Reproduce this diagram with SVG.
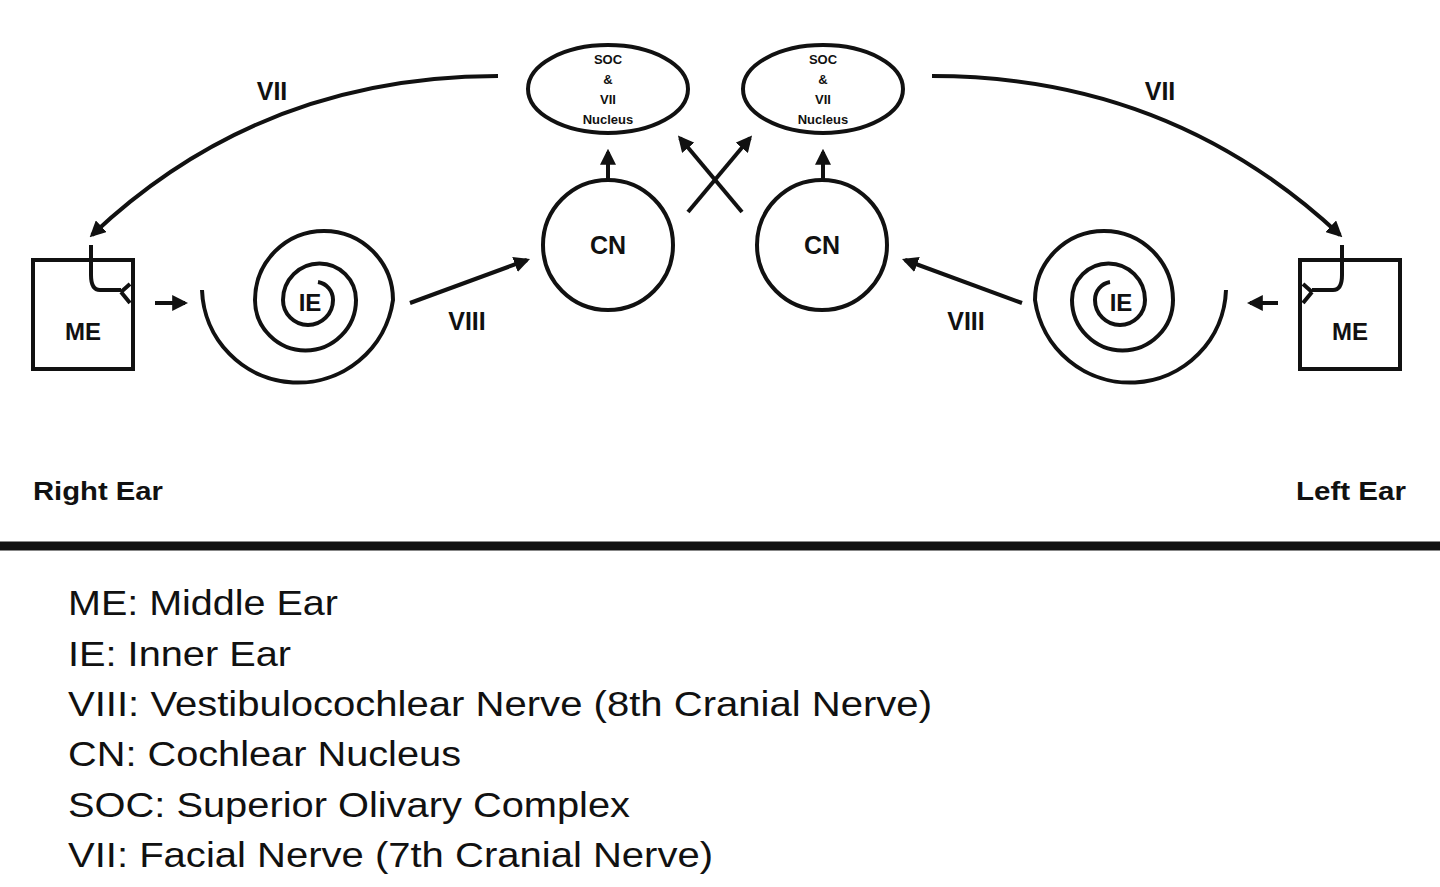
<svg xmlns="http://www.w3.org/2000/svg" width="1440" height="887" viewBox="0 0 1440 887">
<style>
.s{fill:none;stroke:#111;stroke-width:4}
.b{font-family:"Liberation Sans",Arial,sans-serif;font-weight:bold;fill:#111;text-anchor:middle}
.l{font-family:"Liberation Sans",Arial,sans-serif;font-size:35px;fill:#111}
</style>
<defs>
<marker id="a" viewBox="0 0 10 10" refX="8" refY="5" markerWidth="4" markerHeight="4" orient="auto" markerUnits="strokeWidth"><path d="M0,0L10,5L0,10z" fill="#111"/></marker>
<path id="me" d="M33,260H133V369H33Z M91,245V275Q91,290 100,290H121 M121,292L130,284 M121,292L130,303"/>
<path id="sp" d="M202,290A96,96 0 0 0 393,300A69,69 0 0 0 255,300A50.5,50.5 0 0 0 356,300A36.5,36.5 0 0 0 283,300A25,25 0 0 0 333,300A18,18 0 0 0 318,282"/>
</defs>
<rect width="1440" height="887" fill="#fff"/>
<g id="me-right"><use href="#me" class="s"/><text class="b" x="83" y="340" font-size="24">ME</text></g>
<g id="ie-right"><use href="#sp" class="s"/><text class="b" x="310" y="311" font-size="24">IE</text></g>
<g id="me-left"><use href="#me" class="s" transform="translate(1433,0) scale(-1,1)"/><text class="b" x="1350" y="340" font-size="24">ME</text></g>
<g id="ie-left"><use href="#sp" class="s" transform="translate(1428,0) scale(-1,1)"/><text class="b" x="1121" y="311" font-size="24">IE</text></g>
<g id="cn-l"><circle class="s" cx="608" cy="245" r="65"/><text class="b" x="608" y="254" font-size="25">CN</text></g>
<g id="cn-r"><circle class="s" cx="822" cy="245" r="65"/><text class="b" x="822" y="254" font-size="25">CN</text></g>
<g id="soc-l"><ellipse class="s" cx="608" cy="89" rx="80" ry="44"/>
<text class="b" font-size="13"><tspan x="608" y="64">SOC</tspan><tspan x="608" y="84">&amp;</tspan><tspan x="608" y="104">VII</tspan><tspan x="608" y="124">Nucleus</tspan></text></g>
<g id="soc-r"><ellipse class="s" cx="823" cy="89" rx="80" ry="44"/>
<text class="b" font-size="13"><tspan x="823" y="64">SOC</tspan><tspan x="823" y="84">&amp;</tspan><tspan x="823" y="104">VII</tspan><tspan x="823" y="124">Nucleus</tspan></text></g>
<g id="connectors" class="s" marker-end="url(#a)">
<path d="M608,180V152"/><path d="M823,180V152"/>
<path d="M688,212L750,138"/><path d="M742,212L680,138"/>
<path d="M410,303L527,260"/><path d="M1022,303L905,260"/>
<path d="M155,303H185"/><path d="M1278,303H1250"/>
<path d="M498,76Q260,76 92,235"/><path d="M932,76Q1170,76 1340,235"/>
</g>
<g class="b" font-size="25">
<text x="272" y="100">VII</text><text x="1160" y="100">VII</text>
<text x="467" y="330">VIII</text><text x="966" y="330">VIII</text>
<text x="98" y="500" textLength="130" lengthAdjust="spacingAndGlyphs">Right Ear</text><text x="1351" y="500" textLength="110" lengthAdjust="spacingAndGlyphs">Left Ear</text>
</g>
<line x1="0" y1="546" x2="1440" y2="546" stroke="#111" stroke-width="9"/>
<g class="l" lengthAdjust="spacingAndGlyphs">
<text x="68" y="615" textLength="270" lengthAdjust="spacingAndGlyphs">ME: Middle Ear</text>
<text x="68" y="666" textLength="223" lengthAdjust="spacingAndGlyphs">IE: Inner Ear</text>
<text x="68" y="716" textLength="864" lengthAdjust="spacingAndGlyphs">VIII: Vestibulocochlear Nerve (8th Cranial Nerve)</text>
<text x="68" y="766" textLength="393" lengthAdjust="spacingAndGlyphs">CN: Cochlear Nucleus</text>
<text x="68" y="817" textLength="562" lengthAdjust="spacingAndGlyphs">SOC: Superior Olivary Complex</text>
<text x="68" y="867" textLength="645" lengthAdjust="spacingAndGlyphs">VII: Facial Nerve (7th Cranial Nerve)</text>
</g>
</svg>
